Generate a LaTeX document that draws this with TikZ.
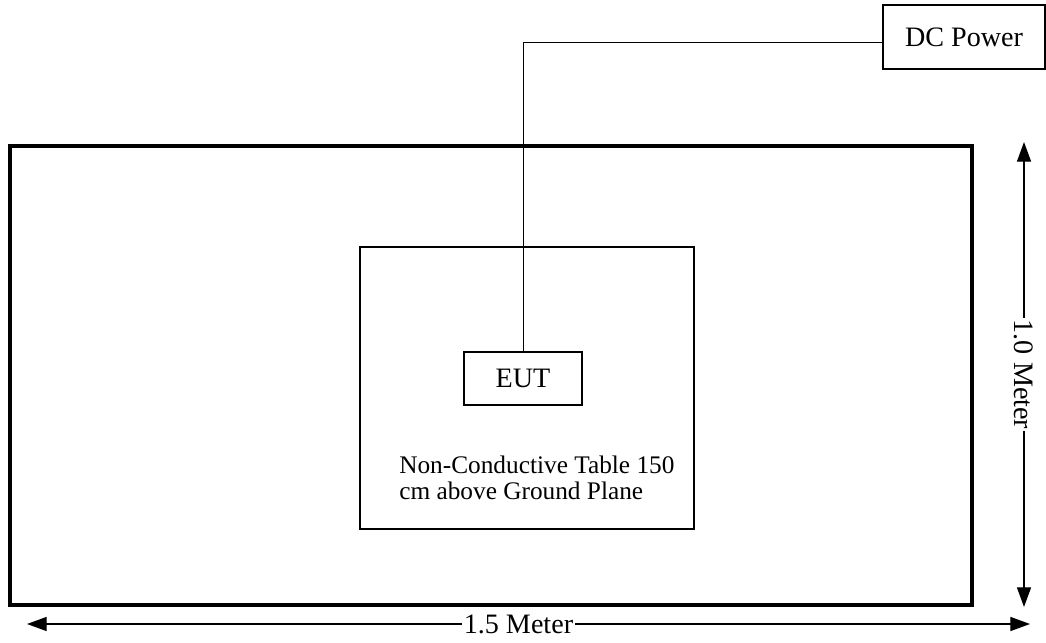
\documentclass[tikz,border=0pt]{standalone}
\usepackage{fontspec}
\setmainfont{Liberation Serif}
\usetikzlibrary{arrows.meta}
\begin{document}
\begin{tikzpicture}[x=.025cm,y=-.025cm,font=\fontsize{20}{22}\selectfont,
  box/.style={draw,line width=.9pt,minimum width=118*.025cm,minimum height=53*.025cm,inner sep=0pt},
  dim/.style={line width=.9pt,{Triangle[length=14pt,width=10pt]}-{Triangle[length=14pt,width=10pt]}}]
\useasboundingbox(0,0)rectangle(1046,643);
\draw[line width=2.4pt](10,146)rectangle(972,605);
\draw[line width=.8pt](360,247)rectangle(694,529);
\node[box](eut)at(523,378.5){EUT};
\node[box,minimum width=162*.025cm,minimum height=64*.025cm](dc)at(964,37){DC Power};
\draw[line width=.6pt](dc.west|-0,42)-|(eut.north);
\node[align=left,anchor=north west,inner sep=0pt,font=\fontsize{18}{18.5}\selectfont](tbl)at(399,456){Non-Conductive Table 150\\cm above Ground Plane};
\coordinate(wl)at(27,624);\coordinate(wr)at(1030,624);
\draw[dim](wl)--(wr)node[pos=.49,fill=white,inner sep=1pt](wlab){1.5 Meter};
\coordinate(ht)at(1024,142);\coordinate(hb)at(1024,607);
\draw[dim](ht)--(hb)node[midway,fill=white,inner sep=1pt,rotate=-90](hlab){1.0 Meter};
\end{tikzpicture}
\end{document}
